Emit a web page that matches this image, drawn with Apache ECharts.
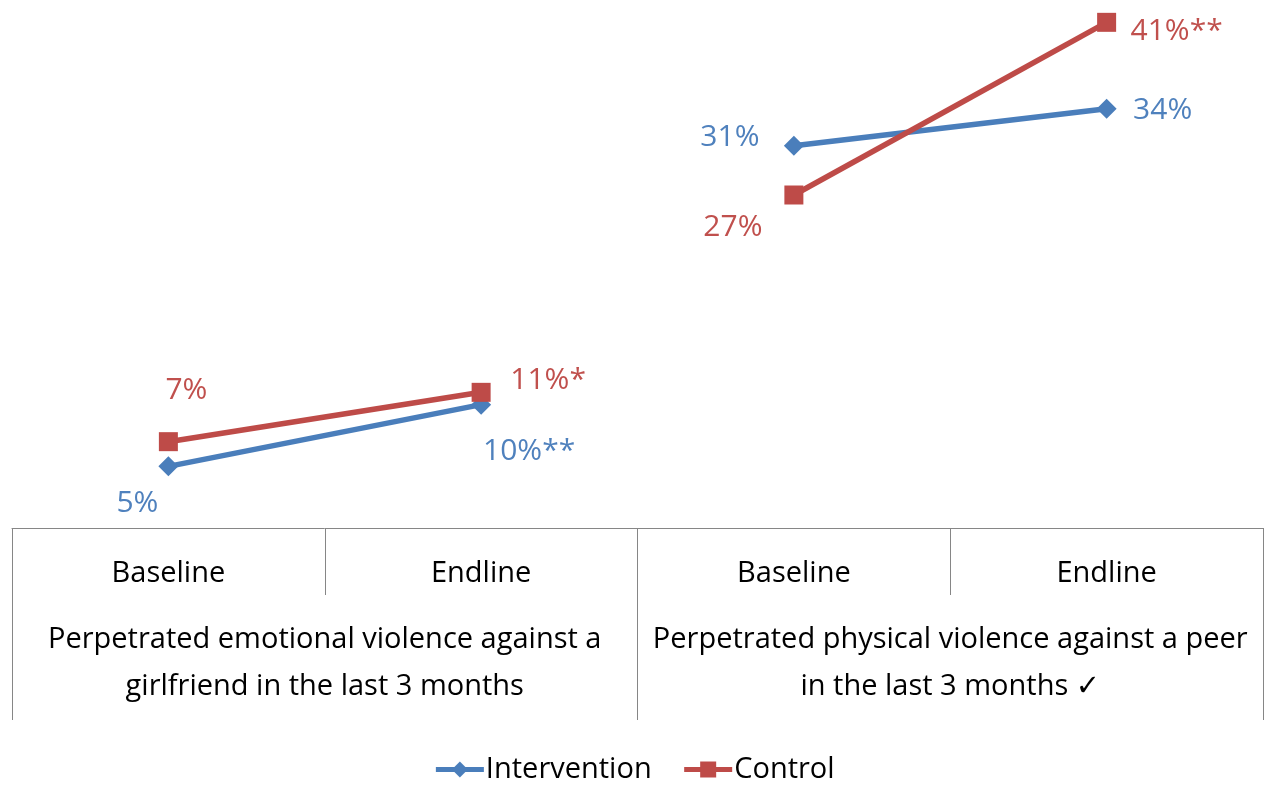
<!DOCTYPE html>
<html>
<head>
<meta charset="utf-8">
<script src="https://cdn.jsdelivr.net/npm/echarts@6/dist/echarts.min.js"></script>
<style>html,body{margin:0;padding:0;background:#fff;}#c{width:1268px;height:786px;}</style>
</head>
<body>
<div id="c"></div>
<script>
const categories = ['Baseline', 'Endline', 'Baseline', 'Endline'];
const groups = ['Perpetrated emotional violence against a\ngirlfriend in the last 3 months',
                'Perpetrated physical violence against a peer\nin the last 3 months \u2713'];
const intervention = [5, 10, 31, 34];
const control = [7, 11, 27, 41];
const interventionLabels = ['5%', '10%**', '31%', '34%'];
const controlLabels = ['7%', '11%*', '27%', '41%**'];

// label offsets (style only)
const intOffsets = [[-31, 37], [48, 47], [-64, -8], [56, 2]];
const ctlOffsets = [[18, -51], [67, -12], [-61, 32], [70, 9]];

const FONT = "'Open Sans', 'DejaVu Sans', sans-serif";
const BLUE = '#4A7EBB', BLUE_T = '#4F81BD';
const RED = '#BE4B48', RED_T = '#C0504D';

function seg(values, labels, offsets, part, color) {
  return values.map((v, i) => {
    if (Math.floor(i / 2) !== part) return null;
    return { value: v, label: { show: true, position: 'inside', offset: offsets[i],
      formatter: labels[i], color: color, fontSize: 30, fontFamily: FONT } };
  });
}

function mk(name, values, labels, offsets, part, color, tcolor, symbol, size) {
  return {
    name: name, type: 'line', xAxisIndex: 0,
    data: seg(values, labels, offsets, part, tcolor),
    symbol: symbol, symbolSize: size, connectNulls: false,
    lineStyle: { color: color, width: 5.5 },
    itemStyle: { color: color },
    emphasis: { disabled: true },
    z: name === 'Control' ? 3 : 2
  };
}

const chart = echarts.init(document.getElementById('c'));
chart.setOption({
  animation: false,
  textStyle: { fontFamily: FONT },
  grid: { left: 12, right: 5, top: 10, bottom: 258 },
  legend: {
    data: ['Intervention', 'Control'], bottom: -3, left: 'center',
    itemWidth: 48, itemHeight: 20, itemGap: 30,
    lineStyle: { width: 5 },
    textStyle: { fontSize: 29, fontFamily: FONT, color: '#000', padding: [0, 0, 0, -3] }
  },
  xAxis: [{
    type: 'category', data: categories, boundaryGap: true, position: 'bottom',
    axisLine: { show: true, lineStyle: { color: '#868686', width: 1 } },
    axisTick: { show: true, interval: 0, length: 67, lineStyle: { color: '#868686' } },
    axisLabel: { interval: 0, margin: 31, fontSize: 29, color: '#000', fontFamily: FONT }
  }, {
    type: 'category', data: groups, boundaryGap: true, position: 'bottom',
    axisLine: { show: false },
    axisTick: { show: true, interval: 0, length: 192, lineStyle: { color: '#868686' } },
    axisLabel: { interval: 0, margin: 88, fontSize: 29, lineHeight: 47, color: '#000', fontFamily: FONT }
  }],
  yAxis: { type: 'value', min: 0, max: 42, show: false, splitLine: { show: false } },
  series: [
    mk('Intervention', intervention, interventionLabels, intOffsets, 0, BLUE, BLUE_T, 'diamond', 20),
    mk('Intervention', intervention, interventionLabels, intOffsets, 1, BLUE, BLUE_T, 'diamond', 20),
    mk('Control', control, controlLabels, ctlOffsets, 0, RED, RED_T, 'rect', 19),
    mk('Control', control, controlLabels, ctlOffsets, 1, RED, RED_T, 'rect', 19)
  ]
});
</script>
</body>
</html>
